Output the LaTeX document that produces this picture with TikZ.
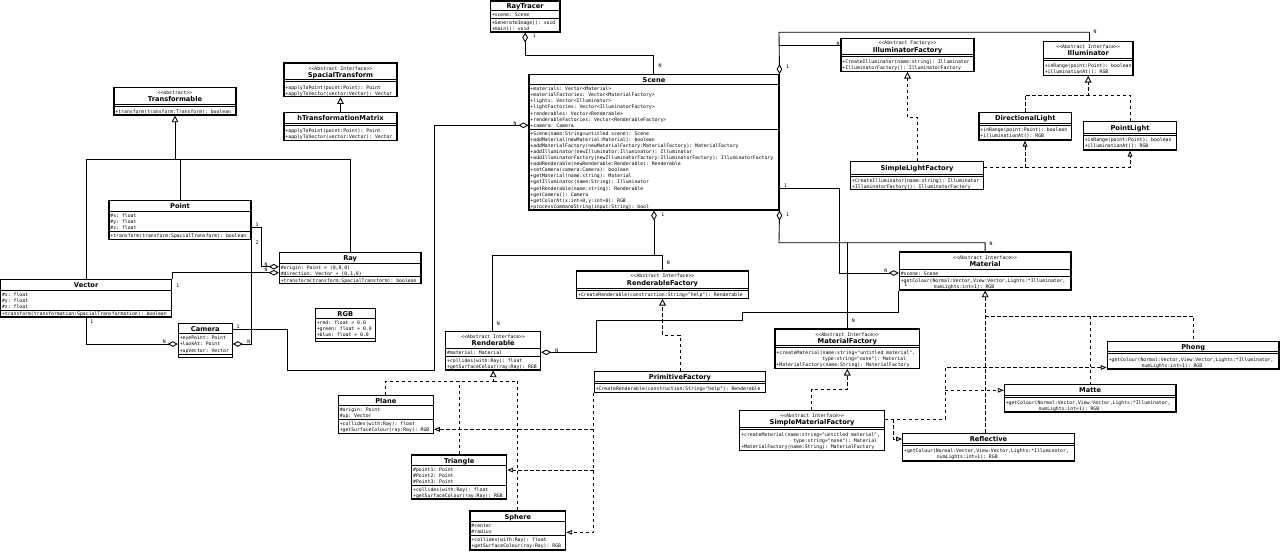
\documentclass[tikz,border=0pt]{standalone}
\usepackage{fontspec}
\setmonofont{DejaVu Sans Mono}
\newfontfamily\clsfont{DejaVu Sans}
\usetikzlibrary{fit,arrows.meta}
\tikzset{
 box/.style={draw, line width=0.8pt, inner sep=0pt},
 sepl/.style={line width=0.6pt},
 mono/.style={font=\ttfamily\fontsize{3.6}{4.4}\selectfont, inner sep=0pt, anchor=mid west, yshift=0.5pt},
 stereo/.style={font=\ttfamily\fontsize{3.6}{4.4}\selectfont, inner sep=0pt, anchor=mid, yshift=0.4pt},
 cname/.style={font=\clsfont\bfseries\fontsize{5}{6}\selectfont, inner sep=0pt, anchor=mid},
 lbl/.style={font=\ttfamily\fontsize{3.6}{4.4}\selectfont, inner sep=0pt, anchor=mid},
 conn/.style={line width=0.65pt},
 agg/.style={conn, -{Diamond[open,length=7.5pt,width=4.2pt]}},
 inh/.style={conn, -{Triangle[open,length=5pt,width=5pt]}},
 dl/.style={conn, dash pattern=on 2.6pt off 1.9pt},
 real/.style={dl, -{Triangle[open,length=5pt,width=5pt]}},
 dep/.style={dl, -{Triangle[open,length=4.5pt,width=3.5pt]}},
}
\newcommand\clsbox[5]{\node[box, fit={(#2,#3) (#4,#5)}] (#1) {};}
\newcommand\clssep[2]{\draw[sepl] (#1.west |- 0,#2) -- (#1.east |- 0,#2);}
\newcommand\clsdsep[2]{\clssep{#1}{#2}\clssep{#1}{{#2+2}}}
\newcommand\clsname[3]{\node[cname] at (#1.north |- 0,#2) {#3};}
\newcommand\clsst[3]{\node[stereo] at (#1.north |- 0,#2) {#3};}
\newcommand\clsline[3]{\node[mono] at (#1,#2) {#3};}
\newcommand\clslines[4]{\foreach \lyne [count=\i from 0] in {#4} {\node[mono] at ({#1},{#2+\i*#3}) {\lyne};}}
\newcommand\mlbl[3]{\node[lbl] at (#1,#2) {#3};}

\begin{document}
\begin{tikzpicture}[x=0.75pt,y=-0.75pt]
\useasboundingbox (0,0) rectangle (1280,551);

% ---------------- RayTracer
\clsbox{RayTracer}{490.3}{1}{560}{32}
\clsname{RayTracer}{5.8}{RayTracer}
\clssep{RayTracer}{10.7}
\clsline{491.5}{14.5}{+scene: Scene}
\clssep{RayTracer}{18.3}
\clslines{491.5}{22.6}{5.8}{+GenerateImage(): void, +main(): void}

% ---------------- Scene
\clsbox{Scene}{529}{74.7}{779}{210}
\clsname{Scene}{79.7}{Scene}
\clssep{Scene}{84.3}
\clslines{530.2}{88.3}{6.15}{+materials: Vector<Material>,
 +materialFactories: Vector<MaterialFactory>,
 +lights: Vector<Illuminator>,
 +lightFactories: Vector<IlluminatorFactory>,
 +renderables: Vector<Renderable>,
 +renderableFactories: Vector<RenderableFactory>,
 +camera: Camera}
\clssep{Scene}{129.3}
\clslines{530.2}{133.3}{6.06}{+Scene(name:String=untitled scene): Scene,
 +addMaterial(newMaterial:Material): boolean,
 +addMaterialFactory(newMaterialFactory:MaterialFactory): MaterialFactory,
 +addIlluminator(newIlluminator:Illuminator): Illuminator,
 +addIlluminatorFactory(newIlluminatorFactory:IlluminatorFactory): IlluminatorFactory,
 +addRenderable(newRenderable:Renderable): Renderable,
 +setCamera(camera:Camera): boolean,
 +getMaterial(name:string): Material,
 +getIlluminator(name:String): Illuminator,
 +getRenderable(name:string): Renderable,
 +getCamera(): Camera,
 {+getColorAt(x:int=0,y:int=0): RGB},
 +processCommandString(input:String): bool}

% ---------------- Transformable
\clsbox{Transformable}{114}{87.3}{236}{115}
\clsst{Transformable}{91.7}{<<abstract>>}
\clsname{Transformable}{98.5}{Transformable}
\clsdsep{Transformable}{104.3}
\clsline{115.2}{110.8}{+transform(transform:Transform): boolean}

% ---------------- SpacialTransform
\clsbox{SpacialTransform}{284}{63}{397}{96.7}
\clsst{SpacialTransform}{67.7}{<<Abstract Interface>>}
\clsname{SpacialTransform}{74.5}{SpacialTransform}
\clsdsep{SpacialTransform}{79.3}
\clslines{285.2}{87}{6}{+applyToPoint(point:Point): Point, +applyToVector(vector:Vector): Vector}

% ---------------- hTransformationMatrix
\clsbox{hTM}{284}{112.3}{397}{140.3}
\clsname{hTM}{117.5}{hTransformationMatrix}
\clsdsep{hTM}{123.3}
\clslines{285.2}{130.3}{6}{+applyToPoint(point:Point): Point, +applyToVector(vector:Vector): Vector}

% ---------------- Point
\clsbox{Point}{109}{200.7}{251}{239.3}
\clsname{Point}{205.8}{Point}
\clssep{Point}{211.7}
\clslines{110.2}{215.2}{6}{\#x: float, \#y: float, \#z: float}
\clssep{Point}{231.3}
\clsline{110.2}{235.3}{+transform(transform:SpacialTransform): boolean}

% ---------------- Ray
\clsbox{Ray}{279.3}{252.3}{421}{283.7}
\clsname{Ray}{257.5}{Ray}
\clssep{Ray}{263.3}
\clslines{280.5}{266.8}{6}{{\#origin: Point = (0,0,0)}, {\#direction: Vector = (0,1,0)}}
\clssep{Ray}{276.7}
\clsline{280.5}{280.3}{+transform(transform:SpacialTransform): boolean}

% ---------------- Vector
\clsbox{Vector}{0.6}{279.3}{171.7}{317}
\clsname{Vector}{284.5}{Vector}
\clssep{Vector}{290.7}
\clslines{1.8}{294}{6.1}{\#x: float, \#y: float, \#z: float}
\clssep{Vector}{310}
\clsline{1.8}{313.4}{+transform(transformation:SpacialTransformation): boolean}

% ---------------- Camera
\clsbox{Camera}{178.3}{323.3}{232.3}{357.7}
\clsname{Camera}{328.8}{Camera}
\clssep{Camera}{333.3}
\clslines{179.5}{337.5}{6.2}{+eyePoint: Point, +lookAt: Point, +upVector: Vector}
\clssep{Camera}{354}

% ---------------- RGB
\clsbox{RGB}{315.3}{308.3}{375.3}{341.7}
\clsname{RGB}{313.2}{RGB}
\clssep{RGB}{318.3}
\clslines{316.5}{322.3}{6.1}{+red: float = 0.0, +green: float = 0.0, +blue: float = 0.0}
\clssep{RGB}{338.3}

% ---------------- Renderable
\clsbox{Renderable}{445.7}{331.7}{540.7}{370}
\clsst{Renderable}{336}{<<Abstract Interface>>}
\clsname{Renderable}{343}{Renderable}
\clssep{Renderable}{348.3}
\clsline{446.9}{352.3}{\#material: Material}
\clssep{Renderable}{356.3}
\clslines{446.9}{359.8}{6.1}{+collides(with:Ray): float, +getSurfaceColour(ray:Ray): RGB}

% ---------------- RenderableFactory
\clsbox{RenderableFactory}{576.7}{271}{748.3}{298.3}
\clsst{RenderableFactory}{275.3}{<<Abstract Interface>>}
\clsname{RenderableFactory}{282.3}{RenderableFactory}
\clsdsep{RenderableFactory}{288}
\clsline{577.9}{294.2}{+CreateRenderable(construction:String="help"): Renderable}

% ---------------- PrimitiveFactory
\clsbox{PrimitiveFactory}{594.3}{371.7}{765.7}{392.3}
\clsname{PrimitiveFactory}{376.6}{PrimitiveFactory}
\clsdsep{PrimitiveFactory}{381.3}
\clsline{595.5}{387.9}{+CreateRenderable(construction:String="help"): Renderable}

% ---------------- Plane
\clsbox{Plane}{338.3}{395.7}{433.3}{433.3}
\clsname{Plane}{400.5}{Plane}
\clssep{Plane}{405.3}
\clslines{339.5}{409.7}{6}{\#origin: Point, \#up: Vector}
\clssep{Plane}{419.7}
\clslines{339.5}{423.3}{6}{+collides(with:Ray): float, +getSurfaceColour(ray:Ray): RGB}

% ---------------- Triangle
\clsbox{Triangle}{411.7}{455}{506.7}{499}
\clsname{Triangle}{460.3}{Triangle}
\clssep{Triangle}{465}
\clslines{412.9}{469.3}{6}{\#point1: Point, \#Point2: Point, \#Point3: Point}
\clssep{Triangle}{485.3}
\clslines{412.9}{489}{6.1}{+collides(with:Ray): float, +getSurfaceColour(ray:Ray): RGB}

% ---------------- Sphere
\clsbox{Sphere}{470}{511}{565.7}{550}
\clsname{Sphere}{516.7}{Sphere}
\clssep{Sphere}{521.7}
\clslines{471.2}{525.7}{6}{\#center, \#radius}
\clssep{Sphere}{535.7}
\clslines{471.2}{539.3}{6}{+collides(with:Ray): float, +getSurfaceColour(ray:Ray): RGB}

% ---------------- IlluminatorFactory
\clsbox{IF}{841}{38.3}{974}{71.3}
\clsst{IF}{42.5}{<<Abstract Factory>>}
\clsname{IF}{49.3}{IlluminatorFactory}
\clsdsep{IF}{54.3}
\clslines{842.2}{61.7}{6}{+CreateIlluminator(name:string): Illuminator, +IlluminatorFactory(): IlluminatorFactory}

% ---------------- Illuminator
\clsbox{Illuminator}{1043.3}{41.5}{1133}{75.3}
\clsst{Illuminator}{45.8}{<<Abstract Interface>>}
\clsname{Illuminator}{52.8}{Illuminator}
\clsdsep{Illuminator}{58.3}
\clslines{1044.5}{65}{5.8}{+inRange(point:Point): boolean, +illuminationAt(): RGB}

% ---------------- DirectionalLight
\clsbox{DL}{979}{112.3}{1071.7}{140}
\clsname{DL}{117.6}{DirectionalLight}
\clsdsep{DL}{123.3}
\clslines{980.2}{129.3}{6}{+inRange(point:Point): boolean, +illuminationAt(): RGB}

% ---------------- PointLight
\clsbox{PL}{1083.3}{121.7}{1176.7}{150}
\clsname{PL}{127.4}{PointLight}
\clsdsep{PL}{133.3}
\clslines{1084.5}{139.3}{6}{+inRange(point:Point): boolean, +illuminationAt(): RGB}

% ---------------- SimpleLightFactory
\clsbox{SLF}{850.7}{161.7}{983.3}{189.3}
\clsname{SLF}{167.7}{SimpleLightFactory}
\clsdsep{SLF}{174}
\clslines{851.9}{180.2}{5.9}{+CreateIlluminator(name:string): Illuminator, +IlluminatorFactory(): IlluminatorFactory}

% ---------------- Material
\clsbox{Material}{899.3}{252}{1071}{290}
\clsst{Material}{256.7}{<<Abstract Interface>>}
\clsname{Material}{263.5}{Material}
\clssep{Material}{269}
\clsline{900.5}{273}{\#scene: Scene}
\clssep{Material}{276.3}
\clsline{900.5}{280.3}{+getColour(Normal:Vector,View:Vector,Lights:*Illuminator,}
\clsline{933.3}{286.3}{numLights:int=1): RGB}

% ---------------- MaterialFactory
\clsbox{MF}{775}{329}{919.5}{368.3}
\clsst{MF}{334}{<<Abstract Interface>>}
\clsname{MF}{340.3}{MaterialFactory}
\clsdsep{MF}{345.7}
\clsline{776.2}{352.3}{+createMaterial(name:string="untitled material",}
\clsline{822}{358.3}{type:string="none"): Material}
\clsline{776.2}{364.3}{+MaterialFactory(name:String): MaterialFactory}

% ---------------- SimpleMaterialFactory
\clsbox{SMF}{739.8}{410.7}{884.4}{450.7}
\clsst{SMF}{415}{<<Abstract Interface>>}
\clsname{SMF}{421.7}{SimpleMaterialFactory}
\clsdsep{SMF}{427.5}
\clsline{741}{434}{+createMaterial(name:string="untitled material",}
\clsline{793}{440.1}{type:string="none"): Material}
\clsline{741}{446.2}{+MaterialFactory(name:String): MaterialFactory}

% ---------------- Phong
\clsbox{Phong}{1107.3}{341.7}{1279}{369}
\clsname{Phong}{346.8}{Phong}
\clsdsep{Phong}{351.7}
\clsline{1108.5}{359}{+getColour(Normal:Vector,View:Vector,Lights:*Illuminator,}
\clsline{1141.3}{365}{numLights:int=1): RGB}

% ---------------- Matte
\clsbox{Matte}{1004.3}{384.3}{1176}{412}
\clsname{Matte}{390}{Matte}
\clsdsep{Matte}{395}
\clsline{1005.5}{402.3}{+getColour(Normal:Vector,View:Vector,Lights:*Illuminator,}
\clsline{1038.3}{408.3}{numLights:int=1): RGB}

% ---------------- Reflective
\clsbox{Reflective}{902.7}{433.3}{1074.3}{461}
\clsname{Reflective}{438.5}{Reflective}
\clsdsep{Reflective}{443.5}
\clsline{903.9}{450.3}{+getColour(Normal:Vector,View:Vector,Lights:*Illuminator,}
\clsline{936.7}{456.3}{numLights:int=1): RGB}

% ================= connectors
% generalisation
\draw[inh] (175,159) -- (Transformable.south);
\draw[conn] (Vector.north -| 86.3,0) |- (350.7,159) -- (Ray.north -| 350.7,0);
\draw[conn] (180,159) -- (Point.north -| 180,0);
\draw[inh] (hTM.north) -- (SpacialTransform.south);

% Point / Vector / Ray / Camera
\draw[agg] (Point.east |- 0,227.3) -| (261,266.7) -- (Ray.west |- 0,266.7);
\draw[agg] (Vector.north east) |- (Ray.west |- 0,272.7);
\draw[agg] (Point.south east) |- (Camera.east |- 0,344);
\draw[agg] (Vector.south -| 86.3,0) |- (Camera.west |- 0,344);
\draw[agg] (Camera.east |- 0,329) -| (287.7,370.7) -| (434.3,125.3) -- (Scene.west |- 0,125.3);

% RayTracer - Scene
\draw[agg] (Scene.north -| 653.3,0) |- (RayTracer.south |- 0,55.3) -- (RayTracer.south);

% Scene - lights
\draw[agg] (Illuminator.north -| 1089.5,0) |- (779,32.3) -- (Scene.north east);
\draw[conn] (779,45.7) -- (IF.west |- 0,45.7);

% Scene - materials
\draw[agg] (Scene.east |- 0,188.3) -| (839.3,273) -- (Material.west |- 0,273);
\draw[agg] (Material.north) |- (779,242.7) -- (Scene.south east);
\draw[conn] (847.25,242.7) -- (MF.north);

% Scene - renderables
\draw[agg] (Renderable.north -| 492.3,0) |- (654,255) -- (Scene.south);
\draw[conn] (654,255) -| (RenderableFactory.north -| 662,0);
\draw[agg] (Material.south west) |- (742.5,312.7) |- (596,320) |- (Renderable.east |- 0,352.3);

% renderable realisations and dependencies
\draw[real] (PrimitiveFactory.north -| 680,0) |- (RenderableFactory.south |- 0,335) -- (RenderableFactory.south);
\draw[dep] (PrimitiveFactory.south west) |- (Sphere.east |- 0,532.3);
\draw[dep] (PrimitiveFactory.south west |- 0,429.3) -- (Plane.east |- 0,429.3);
\draw[dep] (PrimitiveFactory.south west |- 0,470) -- (Triangle.east |- 0,470);
\draw[real] (Plane.north -| 385.7,0) |- (Renderable.south |- 0,381) -- (Renderable.south);
\draw[dl] (Triangle.north -| 459.3,0) -- (459.3,381);
\draw[dl] (Sphere.north -| 517.7,0) |- (Renderable.south |- 0,381);

% light realisations and dependencies
\draw[real] (DL.north -| 1025,0) |- (Illuminator.south |- 0,95) -- (Illuminator.south);
\draw[dl] (PL.north -| 1130,0) |- (Illuminator.south |- 0,95);
\draw[real] (SLF.north -| 917.7,0) |- (IF.south |- 0,117.7) -- (IF.south);
\draw[dep] (SLF.east |- 0,167.7) -| (PL.south -| 1130,0);
\draw[dep] (1025,167.7) -- (DL.south -| 1025,0);

% material realisations and dependencies
\draw[real] (Material.south |- Reflective.north) -- (Material.south);
\draw[dl] (Material.south |- 0,316) -| (Phong.north -| 1193.3,0);
\draw[dl] (1090,316) -- (Matte.north -| 1090,0);
\draw[real] (SMF.north -| 811.8,0) |- (MF.south |- 0,389.3) -- (MF.south);
\draw[dep] (SMF.east |- 0,419.3) -| (945,367.5) -- (Phong.west |- 0,367.5);
\draw[dep] (945,390.3) -- (Matte.west |- 0,390.3);
\draw[dep] (893.3,419.3) |- (Reflective.west |- 0,439);

% ================= multiplicities
\mlbl{534.3}{35}{1}
\mlbl{660}{65}{N}
\mlbl{515}{122.7}{N}
\mlbl{238}{325.7}{1}
\mlbl{257}{224}{1}
\mlbl{257}{242}{2}
\mlbl{266}{263.3}{N}
\mlbl{266}{269}{N}
\mlbl{177.7}{285}{1}
\mlbl{91.7}{321}{1}
\mlbl{164.3}{340.7}{N}
\mlbl{248.7}{340.7}{N}
\mlbl{787.5}{65.7}{1}
\mlbl{838}{42.7}{N}
\mlbl{1095}{31}{N}
\mlbl{785.5}{185}{1}
\mlbl{885.7}{269.3}{N}
\mlbl{787.5}{214}{1}
\mlbl{991}{242.7}{N}
\mlbl{853.3}{319.3}{N}
\mlbl{662.7}{214}{1}
\mlbl{498.3}{322.3}{N}
\mlbl{668.3}{261.7}{N}
\mlbl{556.7}{349.3}{N}
\mlbl{905.7}{284}{1}
\end{tikzpicture}
\end{document}
